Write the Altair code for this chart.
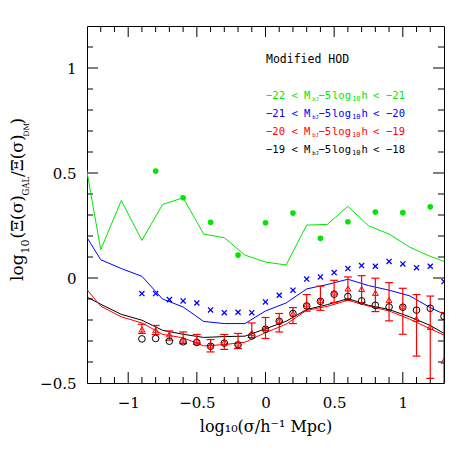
import altair as alt
import pandas as pd

# ---------------- data ----------------
x_line = [-1.35, -1.2, -1.05, -0.9, -0.75, -0.6, -0.45, -0.3, -0.15, 0.0, 0.15,
          0.3, 0.45, 0.6, 0.75, 0.9, 1.05, 1.2, 1.35]
green_line = [0.69, 0.135, 0.369, 0.179, 0.35, 0.382, 0.209, 0.192, 0.109, 0.076,
              0.062, 0.252, 0.255, 0.341, 0.249, 0.209, 0.147, 0.103, 0.067]
blue_line = [0.245, 0.087, 0.045, 0.008, -0.1, -0.138, -0.207, -0.217, -0.217, -0.157,
             -0.119, -0.052, -0.031, -0.006, -0.036, -0.058, -0.085, -0.141, -0.188]
red_line = [-0.016, -0.134, -0.185, -0.214, -0.268, -0.285, -0.323, -0.317, -0.306, -0.26,
            -0.22, -0.154, -0.135, -0.106, -0.134, -0.157, -0.196, -0.242, -0.287]
black_line = [-0.073, -0.125, -0.173, -0.201, -0.249, -0.268, -0.283, -0.279, -0.277, -0.242,
              -0.206, -0.15, -0.127, -0.098, -0.13, -0.15, -0.185, -0.226, -0.283]

x_green = [-0.8, -0.6, -0.4, -0.2, 0.0, 0.2, 0.4, 0.6, 0.8, 1.0, 1.2]
green_pts = [0.509, 0.382, 0.265, 0.109, 0.263, 0.309, 0.189, 0.268, 0.314, 0.311, 0.339]

x_pts = [-0.9, -0.8, -0.7, -0.6, -0.5, -0.4, -0.3, -0.2, -0.1, 0.0, 0.1, 0.2,
         0.3, 0.4, 0.5, 0.6, 0.7, 0.8, 0.9, 1.0, 1.1, 1.2, 1.3]
blue_pts = [-0.074, -0.074, -0.103, -0.109, -0.119, -0.152, -0.165, -0.163, -0.165, -0.114,
            -0.082, -0.058, -0.005, 0.005, 0.026, 0.045, 0.059, 0.056, 0.079, 0.067,
            0.049, 0.056, -0.017]
black_pts = [-0.29, -0.288, -0.301, -0.304, -0.307, -0.325, -0.31, -0.318, -0.276, -0.244,
             -0.206, -0.169, -0.133, -0.111, -0.077, -0.088, -0.109, -0.13, -0.138, -0.139,
             -0.153, -0.144, -0.183]
red_pts = [-0.245, -0.249, -0.269, -0.293, -0.296, -0.321, -0.306, -0.312, -0.261, -0.238,
           -0.201, -0.169, -0.125, -0.106, -0.069, -0.05, -0.052, -0.071, -0.105, -0.135,
           -0.195, -0.233, -0.394]
red_hi = [-0.22, -0.226, -0.252, -0.257, -0.269, -0.293, -0.269, -0.264, -0.214, -0.188,
          -0.169, -0.141, -0.079, -0.039, -0.011, 0.005, 0.011, -0.001, -0.022, -0.049,
          -0.079, -0.086, -0.164]
red_lo = [-0.264, -0.269, -0.296, -0.312, -0.315, -0.352, -0.34, -0.336, -0.283, -0.288,
          -0.257, -0.217, -0.158, -0.154, -0.117, -0.106, -0.117, -0.16, -0.204, -0.268,
          -0.372, -0.478, -0.65]

x_major = [-1.0, -0.5, 0.0, 0.5, 1.0]
x_minor = [-1.2, -1.1, -0.9, -0.8, -0.7, -0.6, -0.4, -0.3, -0.2, -0.1, 0.1, 0.2,
           0.3, 0.4, 0.6, 0.7, 0.8, 0.9, 1.1, 1.2]
y_labels = [-0.5, 0.0, 0.5, 1.0]
y_major = [0.0, 0.5, 1.0]
y_minor = [-0.4, -0.3, -0.2, -0.1, 0.1, 0.2, 0.3, 0.4, 0.6, 0.7, 0.8, 0.9, 1.1]

legend_lo = ["−22", "−21", "−20", "−19"]
legend_hi = ["−21", "−20", "−19", "−18"]
legend_title = "Modified HOD"

GREEN, BLUE, RED, BLACK = "#00e600", "#0000ff", "#ff0000", "#000000"
legend_colors = [GREEN, BLUE, RED, BLACK]

# ---------------- layout ----------------
W = H = 357
OX, OY = 87, 26  # plot origin on page (8px margin + padding)
SERIF = "DejaVu Serif"
MONO = "DejaVu Sans Mono"

xs = alt.Scale(domain=[-1.3, 1.3], nice=False, zero=False)
ys = alt.Scale(domain=[-0.5, 1.2], nice=False, zero=False)
xaxis = alt.Axis(values=x_major, ticks=False, domain=False, grid=False, format="~g",
                 labelFont=SERIF, labelFontSize=15, labelColor="black", labelPadding=12,
                 labelFlush=False, labelOverlap=False,
                 title="log₁₀(σ/h⁻¹ Mpc)", titleFont=SERIF, titleFontSize=16,
                 titleFontWeight="normal", titleColor="black", titlePadding=8)
yaxis = alt.Axis(values=y_labels, ticks=False, domain=False, grid=False, format="~g",
                 labelFont=SERIF, labelFontSize=15, labelColor="black", labelPadding=11,
                 labelFlush=False, labelOverlap=False, title=None)


def xe(f):
    return alt.X(f, type="quantitative", scale=xs, axis=xaxis)


def ye(f):
    return alt.Y(f, type="quantitative", scale=ys, axis=yaxis)


layers = []

# tick marks (inside, all four sides)
for vals, ln in [(x_major, 11), (x_minor, 6)]:
    d = pd.DataFrame({"v": vals})
    layers.append(alt.Chart(d).mark_rule(color="black", strokeWidth=1).encode(
        x=xe("v"), y=alt.value(H), y2=alt.value(H - ln)))
    layers.append(alt.Chart(d).mark_rule(color="black", strokeWidth=1).encode(
        x=xe("v"), y=alt.value(0), y2=alt.value(ln)))
for vals, ln in [(y_major, 11), (y_minor, 6)]:
    d = pd.DataFrame({"v": vals})
    layers.append(alt.Chart(d).mark_rule(color="black", strokeWidth=1).encode(
        y=ye("v"), x=alt.value(0), x2=alt.value(ln)))
    layers.append(alt.Chart(d).mark_rule(color="black", strokeWidth=1).encode(
        y=ye("v"), x=alt.value(W), x2=alt.value(W - ln)))

# model lines
for vals, col in [(green_line, GREEN), (blue_line, BLUE), (black_line, BLACK), (red_line, RED)]:
    d = pd.DataFrame({"x": x_line, "y": vals})
    layers.append(alt.Chart(d).mark_line(color=col, strokeWidth=1, clip=True).encode(
        x=xe("x"), y=ye("y")))

# green filled circles
dg = pd.DataFrame({"x": x_green, "y": green_pts})
layers.append(alt.Chart(dg).mark_circle(color=GREEN, size=32, opacity=1, clip=True).encode(
    x=xe("x"), y=ye("y")))

# blue crosses
db = pd.DataFrame({"x": x_pts, "y": blue_pts})
layers.append(alt.Chart(db).mark_point(shape="M-1,-1L1,1M-1,1L1,-1", filled=False, color=BLUE,
                                       size=26, strokeWidth=1.3, opacity=1, clip=True).encode(
    x=xe("x"), y=ye("y")))

# red error bars
dr = pd.DataFrame({"x": x_pts, "y": red_pts, "lo": red_lo, "hi": red_hi})
layers.append(alt.Chart(dr).mark_rule(color=RED, strokeWidth=1.2, clip=True).encode(
    x=xe("x"), y=ye("lo"), y2=alt.Y2("hi")))
for f in ["lo", "hi"]:
    layers.append(alt.Chart(dr).mark_tick(color=RED, orient="horizontal", size=8, thickness=1.2,
                                          opacity=1, clip=True).encode(x=xe("x"), y=ye(f)))

# black open circles
dk = pd.DataFrame({"x": x_pts, "y": black_pts})
layers.append(alt.Chart(dk).mark_point(shape="circle", filled=False, color=BLACK, size=44,
                                       strokeWidth=1, opacity=1, clip=True).encode(
    x=xe("x"), y=ye("y")))

# red open triangles
layers.append(alt.Chart(dr).mark_point(shape="triangle-up", filled=False, color=RED, size=34,
                                       strokeWidth=1, opacity=1, clip=True).encode(
    x=xe("x"), y=ye("y")))

# ---------------- text ----------------
dummy = pd.DataFrame({"a": [0]})


def txt(s, px, py, size, color="black", font=MONO, angle=None):
    mk = dict(text=s, fontSize=size, font=font, color=color, align="left",
              baseline="alphabetic")
    if angle is not None:
        mk["angle"] = angle
    return alt.Chart(dummy).mark_text(**mk).encode(x=alt.value(px - OX), y=alt.value(py - OY))


layers.append(txt(legend_title, 266, 62.5, 11.5))
for i, (lo, hi, col) in enumerate(zip(legend_lo, legend_hi, legend_colors)):
    b = 98.5 + 18 * i
    layers += [
        txt(lo, 266, b, 10.5, col),
        txt("<", 291.5, b, 10.5, col),
        txt("M", 304, b, 10.5, col),
        txt("bJ", 312.3, b + 2.5, 5.5, col),
        txt("−5", 318.5, b, 10.5, col),
        txt("log", 332, b, 10.5, col),
        txt("10", 352, b + 2.5, 7, col),
        txt("h", 361.5, b, 10.5, col),
        txt("<", 373, b, 10.5, col),
        txt(hi, 386, b, 10.5, col),
    ]

# y-axis title (rotated, with subscripts)
layers += [
    txt("log", 23, 281, 17, font=SERIF, angle=270),
    txt("10", 29, 253.5, 11, font=SERIF, angle=270),
    txt("(Ξ(σ)", 23, 238.5, 17, font=SERIF, angle=270),
    txt("GAL", 29, 195.5, 8.5, font=SERIF, angle=270),
    txt("/Ξ(σ)", 23, 177, 17, font=SERIF, angle=270),
    txt("DM", 29, 136.5, 7.5, font=SERIF, angle=270),
    txt(")", 23, 124.5, 17, font=SERIF, angle=270),
]

chart = alt.layer(*layers).properties(
    width=W, height=H,
    autosize=alt.AutoSizeParams(type="none"),
    padding={"left": 79, "top": 18, "right": 12, "bottom": 68},
    background="white",
).configure_view(stroke="black", strokeWidth=1)

chart.save("out.html", embed_options={"renderer": "svg", "actions": False})
